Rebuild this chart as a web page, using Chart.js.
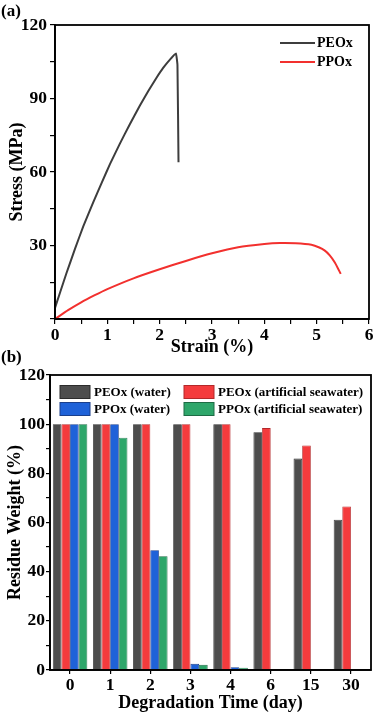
<!DOCTYPE html>
<html>
<head>
<meta charset="utf-8">
<script src="https://cdn.jsdelivr.net/npm/chart.js@4.4.0/dist/chart.umd.min.js"></script>
<style>
    html, body { margin: 0; padding: 0; background: #fff; }
    #wrap { position: relative; width: 375px; height: 714px; }
    .panel { position: absolute; left: 0; width: 375px; }
    .tag { position: absolute; left: 1px; font: bold 17px "Liberation Serif", serif; color: #000; }
</style>
</head>
<body>
<div id="wrap">
    <div class="panel" style="top:0;height:356px"><canvas id="chartA"></canvas></div>
    <div class="panel" style="top:356px;height:358px"><canvas id="chartB"></canvas></div>
    <div class="tag" style="top:1px">(a)</div>
    <div class="tag" style="top:347px">(b)</div>
</div>
<script>
// (a) stress-strain curves
const peoStrain = [0, 0.05, 0.10, 0.22, 0.38, 0.54, 0.73, 0.90, 1.05, 1.24, 1.43, 1.62, 1.78, 1.94, 2.07, 2.20, 2.31, 2.34, 2.36];
const peoStress = [4.5, 7.8, 11, 18.8, 28.5, 37.8, 47.6, 56, 63.2, 71.6, 79.5, 87, 93, 98.5, 102.6, 106, 108.4, 103.7, 64];
const ppoStrain = [0, 0.25, 0.5, 0.75, 1, 1.5, 2, 2.5, 3, 3.5, 4, 4.3, 4.6, 4.9, 5.05, 5.15, 5.25, 5.35, 5.46];
const ppoStress = [0, 3.6, 6.8, 9.6, 12.2, 16.6, 20.3, 23.7, 26.8, 29.3, 30.6, 31, 30.9, 30.3, 29.2, 28, 26, 23, 18.4];

// (b) residue weight during degradation
const days = ['0', '1', '2', '3', '4', '6', '15', '30'];
const peoWater = [100, 100, 100, 100, 100, 96.7, 86, 61.1];
const peoSea = [100, 100, 100, 100, 100, 98.4, 91.3, 66.5];
const ppoWater = [100, 100, 48.7, 2.5, 1.1, null, null, null];
const ppoSea = [100, 94.5, 46.3, 2.1, 0.9, null, null, null];

const FONT = '"Liberation Serif", "Times New Roman", serif';

function toPoints(xs, ys) {
    return xs.map((x, i) => ({ x: x, y: ys[i] }));
}

// box around the plot area
const framePlugin = {
    id: 'frame',
    afterDraw(chart) {
        const { ctx, chartArea: a } = chart;
        ctx.save();
        ctx.strokeStyle = '#000';
        ctx.lineWidth = 1.8;
        ctx.strokeRect(a.left, a.top, a.right - a.left, a.bottom - a.top);
        ctx.restore();
    }
};

// line legend inside the top right corner of (a)
const lineLegend = {
    id: 'lineLegend',
    afterDraw(chart) {
        const { ctx, chartArea: a } = chart;
        ctx.save();
        ctx.font = 'bold 14px ' + FONT;
        ctx.textBaseline = 'middle';
        chart.data.datasets.forEach((ds, i) => {
            const y = a.top + 18 + i * 19;
            ctx.strokeStyle = ds.borderColor;
            ctx.lineWidth = 2;
            ctx.beginPath();
            ctx.moveTo(a.right - 89, y);
            ctx.lineTo(a.right - 54, y);
            ctx.stroke();
            ctx.fillStyle = '#000';
            ctx.fillText(ds.label, a.right - 52, y);
        });
        ctx.restore();
    }
};

// two column box legend for (b)
const boxLegend = {
    id: 'boxLegend',
    afterDraw(chart) {
        const { ctx, chartArea: a } = chart;
        ctx.save();
        ctx.font = 'bold 13px ' + FONT;
        ctx.textBaseline = 'middle';
        chart.data.datasets.forEach((ds, i) => {
            const col = i % 2, row = Math.floor(i / 2);
            const x = a.left + 10 + col * 124;
            const y = a.top + 17 + row * 17;
            ctx.fillStyle = ds.backgroundColor;
            ctx.fillRect(x, y - 6.5, 30, 13);
            ctx.strokeStyle = ds.borderColor;
            ctx.lineWidth = 1;
            ctx.strokeRect(x, y - 6.5, 30, 13);
            ctx.fillStyle = '#000';
            ctx.fillText(ds.label, x + 34, y + 0.5);
        });
        ctx.restore();
    }
};

function axisCommon(tickLen) {
    return {
        grid: { display: true, drawOnChartArea: false, drawTicks: true, tickLength: tickLen, color: '#000', lineWidth: 1.2 },
        border: { display: true, color: '#000', width: 1.8 },
        ticks: { color: '#000', font: { family: FONT, size: 17.5, weight: 'bold' }, padding: 1, autoSkip: false, maxRotation: 0 }
    };
}

const ax = axisCommon(5);
const ay = axisCommon(5);

new Chart(document.getElementById('chartA'), {
    type: 'line',
    data: {
        datasets: [
            { label: 'PEOx', data: toPoints(peoStrain, peoStress), borderColor: '#3d3d3d', borderWidth: 2, pointRadius: 0, tension: 0.1 },
            { label: 'PPOx', data: toPoints(ppoStrain, ppoStress), borderColor: '#f2302e', borderWidth: 2, pointRadius: 0, tension: 0.2 }
        ]
    },
    options: {
        responsive: true,
        maintainAspectRatio: false,
        animation: false,
        layout: { padding: { top: 25, right: 6, left: 0, bottom: 0 } },
        plugins: { legend: { display: false }, tooltip: { enabled: false } },
        scales: {
            x: {
                type: 'linear', min: 0, max: 6,
                grid: ax.grid, border: ax.border,
                ticks: Object.assign({}, ax.ticks, { stepSize: 0.5, callback: v => Number.isInteger(v) ? v : '' }),
                title: { display: true, text: 'Strain (%)', color: '#000', font: { family: FONT, size: 18, weight: 'bold', lineHeight: 1 }, padding: { top: 0, bottom: 0 } },
                afterFit: s => { s.height = 37; }
            },
            y: {
                min: 0, max: 120,
                grid: ay.grid, border: ay.border,
                ticks: Object.assign({}, ay.ticks, { stepSize: 15, padding: 3, callback: v => (v % 30 === 0 && v !== 0) ? v : '' }),
                title: { display: true, text: 'Stress (MPa)', color: '#000', font: { family: FONT, size: 18, weight: 'bold', lineHeight: 1 }, padding: { top: 8, bottom: 0 } },
                afterFit: s => { s.width = 55; }
            }
        }
    },
    plugins: [framePlugin, lineLegend]
});

const bx = axisCommon(4);
const by = axisCommon(4);

new Chart(document.getElementById('chartB'), {
    type: 'bar',
    data: {
        labels: days,
        datasets: [
            { label: 'PEOx (water)', data: peoWater, backgroundColor: '#4d4d4d', borderColor: '#2b2b2b', borderWidth: 0.8 },
            { label: 'PEOx (artificial seawater)', data: peoSea, backgroundColor: '#f43b3d', borderColor: '#b3282a', borderWidth: 0.8 },
            { label: 'PPOx (water)', data: ppoWater, backgroundColor: '#1f62d8', borderColor: '#1a3f8c', borderWidth: 0.8 },
            { label: 'PPOx (artificial seawater)', data: ppoSea, backgroundColor: '#2ea66a', borderColor: '#1d6b44', borderWidth: 0.8 }
        ]
    },
    options: {
        responsive: true,
        maintainAspectRatio: false,
        animation: false,
        layout: { padding: { top: 19, right: 4, left: 0, bottom: 0 } },
        plugins: { legend: { display: false }, tooltip: { enabled: false } },
        datasets: { bar: { categoryPercentage: 0.86, barPercentage: 1.0 } },
        scales: {
            x: {
                grid: Object.assign({}, bx.grid, { offset: false }), border: bx.border,
                ticks: bx.ticks,
                title: { display: true, text: 'Degradation Time (day)', color: '#000', font: { family: FONT, size: 18, weight: 'bold', lineHeight: 1 }, padding: { top: 0, bottom: 2 } },
                afterFit: s => { s.height = 44; }
            },
            y: {
                min: 0, max: 120,
                grid: by.grid, border: by.border,
                ticks: Object.assign({}, by.ticks, { stepSize: 10, padding: 1, callback: v => v % 20 === 0 ? v : '' }),
                title: { display: true, text: 'Residue Weight (%)', color: '#000', font: { family: FONT, size: 18, weight: 'bold', lineHeight: 1 }, padding: { top: 6, bottom: 0 } },
                afterFit: s => { s.width = 50; }
            }
        }
    },
    plugins: [framePlugin, boxLegend]
});
</script>
</body>
</html>
